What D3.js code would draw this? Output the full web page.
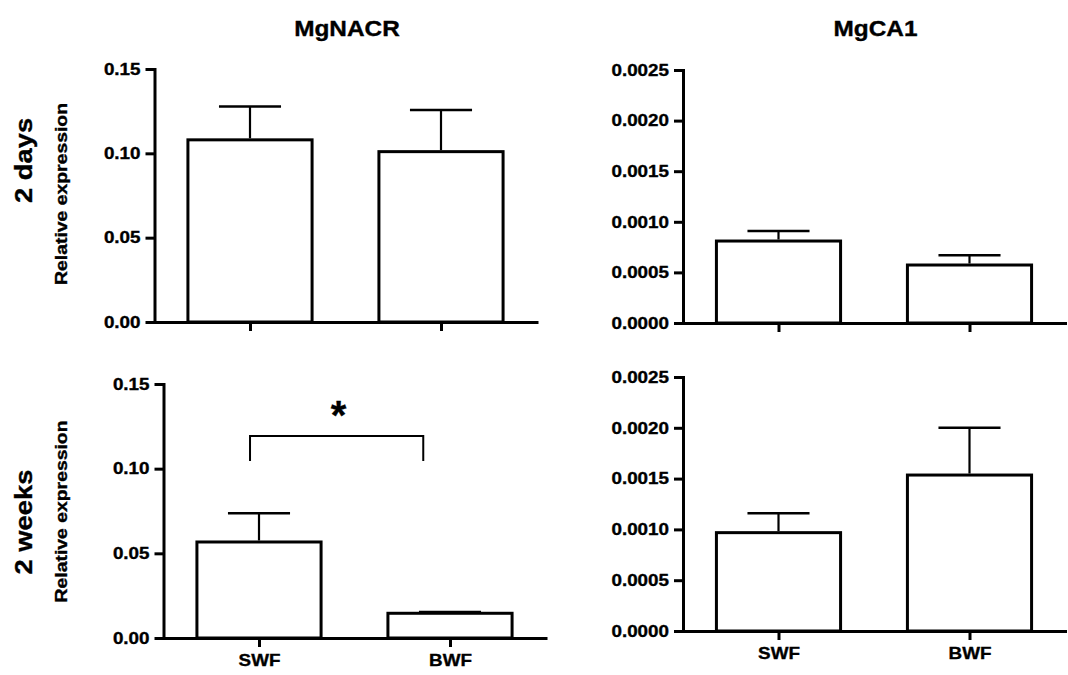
<!DOCTYPE html>
<html>
<head>
<meta charset="utf-8">
<script src="https://cdn.jsdelivr.net/npm/d3@7"></script>
<style>
  html, body { margin: 0; padding: 0; background: #fff; }
  svg text { font-family: "Liberation Sans", Arial, Helvetica, sans-serif; font-weight: bold; fill: #000; stroke: #000; stroke-width: 0.35px; }
</style>
</head>
<body>
<svg id="chart" width="1068" height="675"></svg>
<script>
// ---------------- DATA ----------------
const categories = ["SWF", "BWF"];
const genes = ["MgNACR", "MgCA1"];
const timepoints = ["2 days", "2 weeks"];
const yLabel = "Relative expression";

const nacrTicks = [0.00, 0.05, 0.10, 0.15];
const caTicks = [0.0000, 0.0005, 0.0010, 0.0015, 0.0020, 0.0025];

// means and SEM
const nacr2dMean = [0.108, 0.101];
const nacr2dSem  = [0.0197, 0.0247];
const ca2dMean   = [0.00081, 0.000573];
const ca2dSem    = [0.000100, 0.000096];
const nacr2wMean = [0.0567, 0.0146];
const nacr2wSem  = [0.0169, 0.0008];
const ca2wMean   = [0.000968, 0.001535];
const ca2wSem    = [0.00019, 0.000466];

// significance annotation (MgNACR, 2 weeks)
const sigLabel = "*";
const sigBracketLevel = [0.1193, 0.1045]; // top, end of drops
const sigStarLevel = 0.1378;

// ---------------- LAYOUT ----------------
const TEXT_STRETCH = 1.14;
const svg = d3.select("#chart");

const panels = [
  { mean: nacr2dMean, sem: nacr2dSem, ticks: nacrTicks, fmt: ".2f", x0: 154.5, x1: 536.5, top: 69, bottom: 322, col: 0, row: 0 },
  { mean: ca2dMean,   sem: ca2dSem,   ticks: caTicks,   fmt: ".4f", x0: 683,   x1: 1065,  top: 70, bottom: 323, col: 1, row: 0 },
  { mean: nacr2wMean, sem: nacr2wSem, ticks: nacrTicks, fmt: ".2f", x0: 163.5, x1: 545.5, top: 384, bottom: 638, col: 0, row: 1, sig: true },
  { mean: ca2wMean,   sem: ca2wSem,   ticks: caTicks,   fmt: ".4f", x0: 683,   x1: 1065,  top: 377, bottom: 631, col: 1, row: 1 }
];

function stretch(sel, k) {
  sel.each(function () {
    const L = this.getComputedTextLength();
    if (L > 0) {
      this.setAttribute("textLength", L * k);
      this.setAttribute("lengthAdjust", "spacingAndGlyphs");
    }
  });
}

panels.forEach(p => {
  const g = svg.append("g");
  const dom = d3.extent(p.ticks);
  const y = d3.scaleLinear().domain(dom).range([p.bottom, p.top]);
  const x = d3.scalePoint().domain(categories).range([p.x0, p.x1]).padding(0.5);
  const step = x.step();
  const bw = step * 0.65;

  // bars
  g.selectAll("rect.bar").data(categories).join("rect")
    .attr("class", "bar")
    .attr("x", d => x(d) - bw / 2)
    .attr("width", bw)
    .attr("y", (d, i) => y(p.mean[i]))
    .attr("height", (d, i) => y(0) - y(p.mean[i]))
    .attr("fill", "#fff").attr("stroke", "#000").attr("stroke-width", 3);

  // error bars (upper only)
  const eg = g.selectAll("g.err").data(categories).join("g").attr("class", "err");
  eg.append("line")
    .attr("x1", d => x(d)).attr("x2", d => x(d))
    .attr("y1", (d, i) => y(p.mean[i]) - 1.5)
    .attr("y2", (d, i) => y(p.mean[i] + p.sem[i]))
    .attr("stroke", "#000").attr("stroke-width", 2.2);
  eg.append("line")
    .attr("x1", d => x(d) - bw / 4).attr("x2", d => x(d) + bw / 4)
    .attr("y1", (d, i) => y(p.mean[i] + p.sem[i]))
    .attr("y2", (d, i) => y(p.mean[i] + p.sem[i]))
    .attr("stroke", "#000").attr("stroke-width", 2.5);

  // y axis
  const ya = g.append("g").attr("transform", `translate(${p.x0},0)`)
    .call(d3.axisLeft(y).tickValues(p.ticks).tickFormat(d3.format(p.fmt)).tickSize(9).tickSizeOuter(0).tickPadding(5));
  // x axis
  const xa = g.append("g").attr("transform", `translate(0,${p.bottom})`)
    .call(d3.axisBottom(x).tickSize(9).tickSizeOuter(0).tickPadding(7)
      .tickFormat(p.row === 1 ? (d => d) : () => ""));

  [ya, xa].forEach(a => {
    a.select(".domain").attr("stroke", "#000").attr("stroke-width", 3).attr("stroke-linecap", "square");
    a.selectAll(".tick line").attr("stroke", "#000").attr("stroke-width", 3);
    a.selectAll(".tick text").style("font-size", "16.5px").style("font-family", "'Liberation Sans', Arial, sans-serif").style("font-weight", "bold");
    stretch(a.selectAll(".tick text"), TEXT_STRETCH);
  });

  // significance bracket
  if (p.sig) {
    const xl = x(categories[0]) - 0.047 * step;
    const xr = x(categories[1]) - 0.14 * step;
    const yt = y(sigBracketLevel[0]);
    const yb = y(sigBracketLevel[1]);
    g.append("path")
      .attr("d", `M${xl},${yb}V${yt}H${xr}V${yb}`)
      .attr("fill", "none").attr("stroke", "#000").attr("stroke-width", 2);
    g.append("text")
      .attr("x", (xl + xr) / 2 + 2)
      .attr("y", y(sigStarLevel))
      .attr("text-anchor", "middle")
      .attr("dy", "0.62em")
      .style("font-size", "40px")
      .text(sigLabel);
  }

  // column titles (top row only)
  if (p.row === 0) {
    const t = svg.append("text")
      .attr("x", (p.x0 + p.x1) / 2 + 1.5)
      .attr("y", 36)
      .attr("text-anchor", "middle")
      .style("font-size", "21.4px")
      .text(genes[p.col]);
    stretch(t, TEXT_STRETCH);
  }

  // row labels (left column only)
  if (p.col === 0) {
    const cy = p.row === 0 ? 160.5 : 522;
    const t1 = svg.append("text")
      .attr("transform", `translate(32,${cy}) rotate(-90)`)
      .attr("text-anchor", "middle")
      .style("font-size", "24px")
      .text(timepoints[p.row]);
    stretch(t1, TEXT_STRETCH);
    const cy2 = p.row === 0 ? 194 : 511.5;
    const t2 = svg.append("text")
      .attr("transform", `translate(67,${cy2}) rotate(-90)`)
      .attr("text-anchor", "middle")
      .style("font-size", "17px")
      .text(yLabel);
    stretch(t2, TEXT_STRETCH);
  }
});
</script>
</body>
</html>
